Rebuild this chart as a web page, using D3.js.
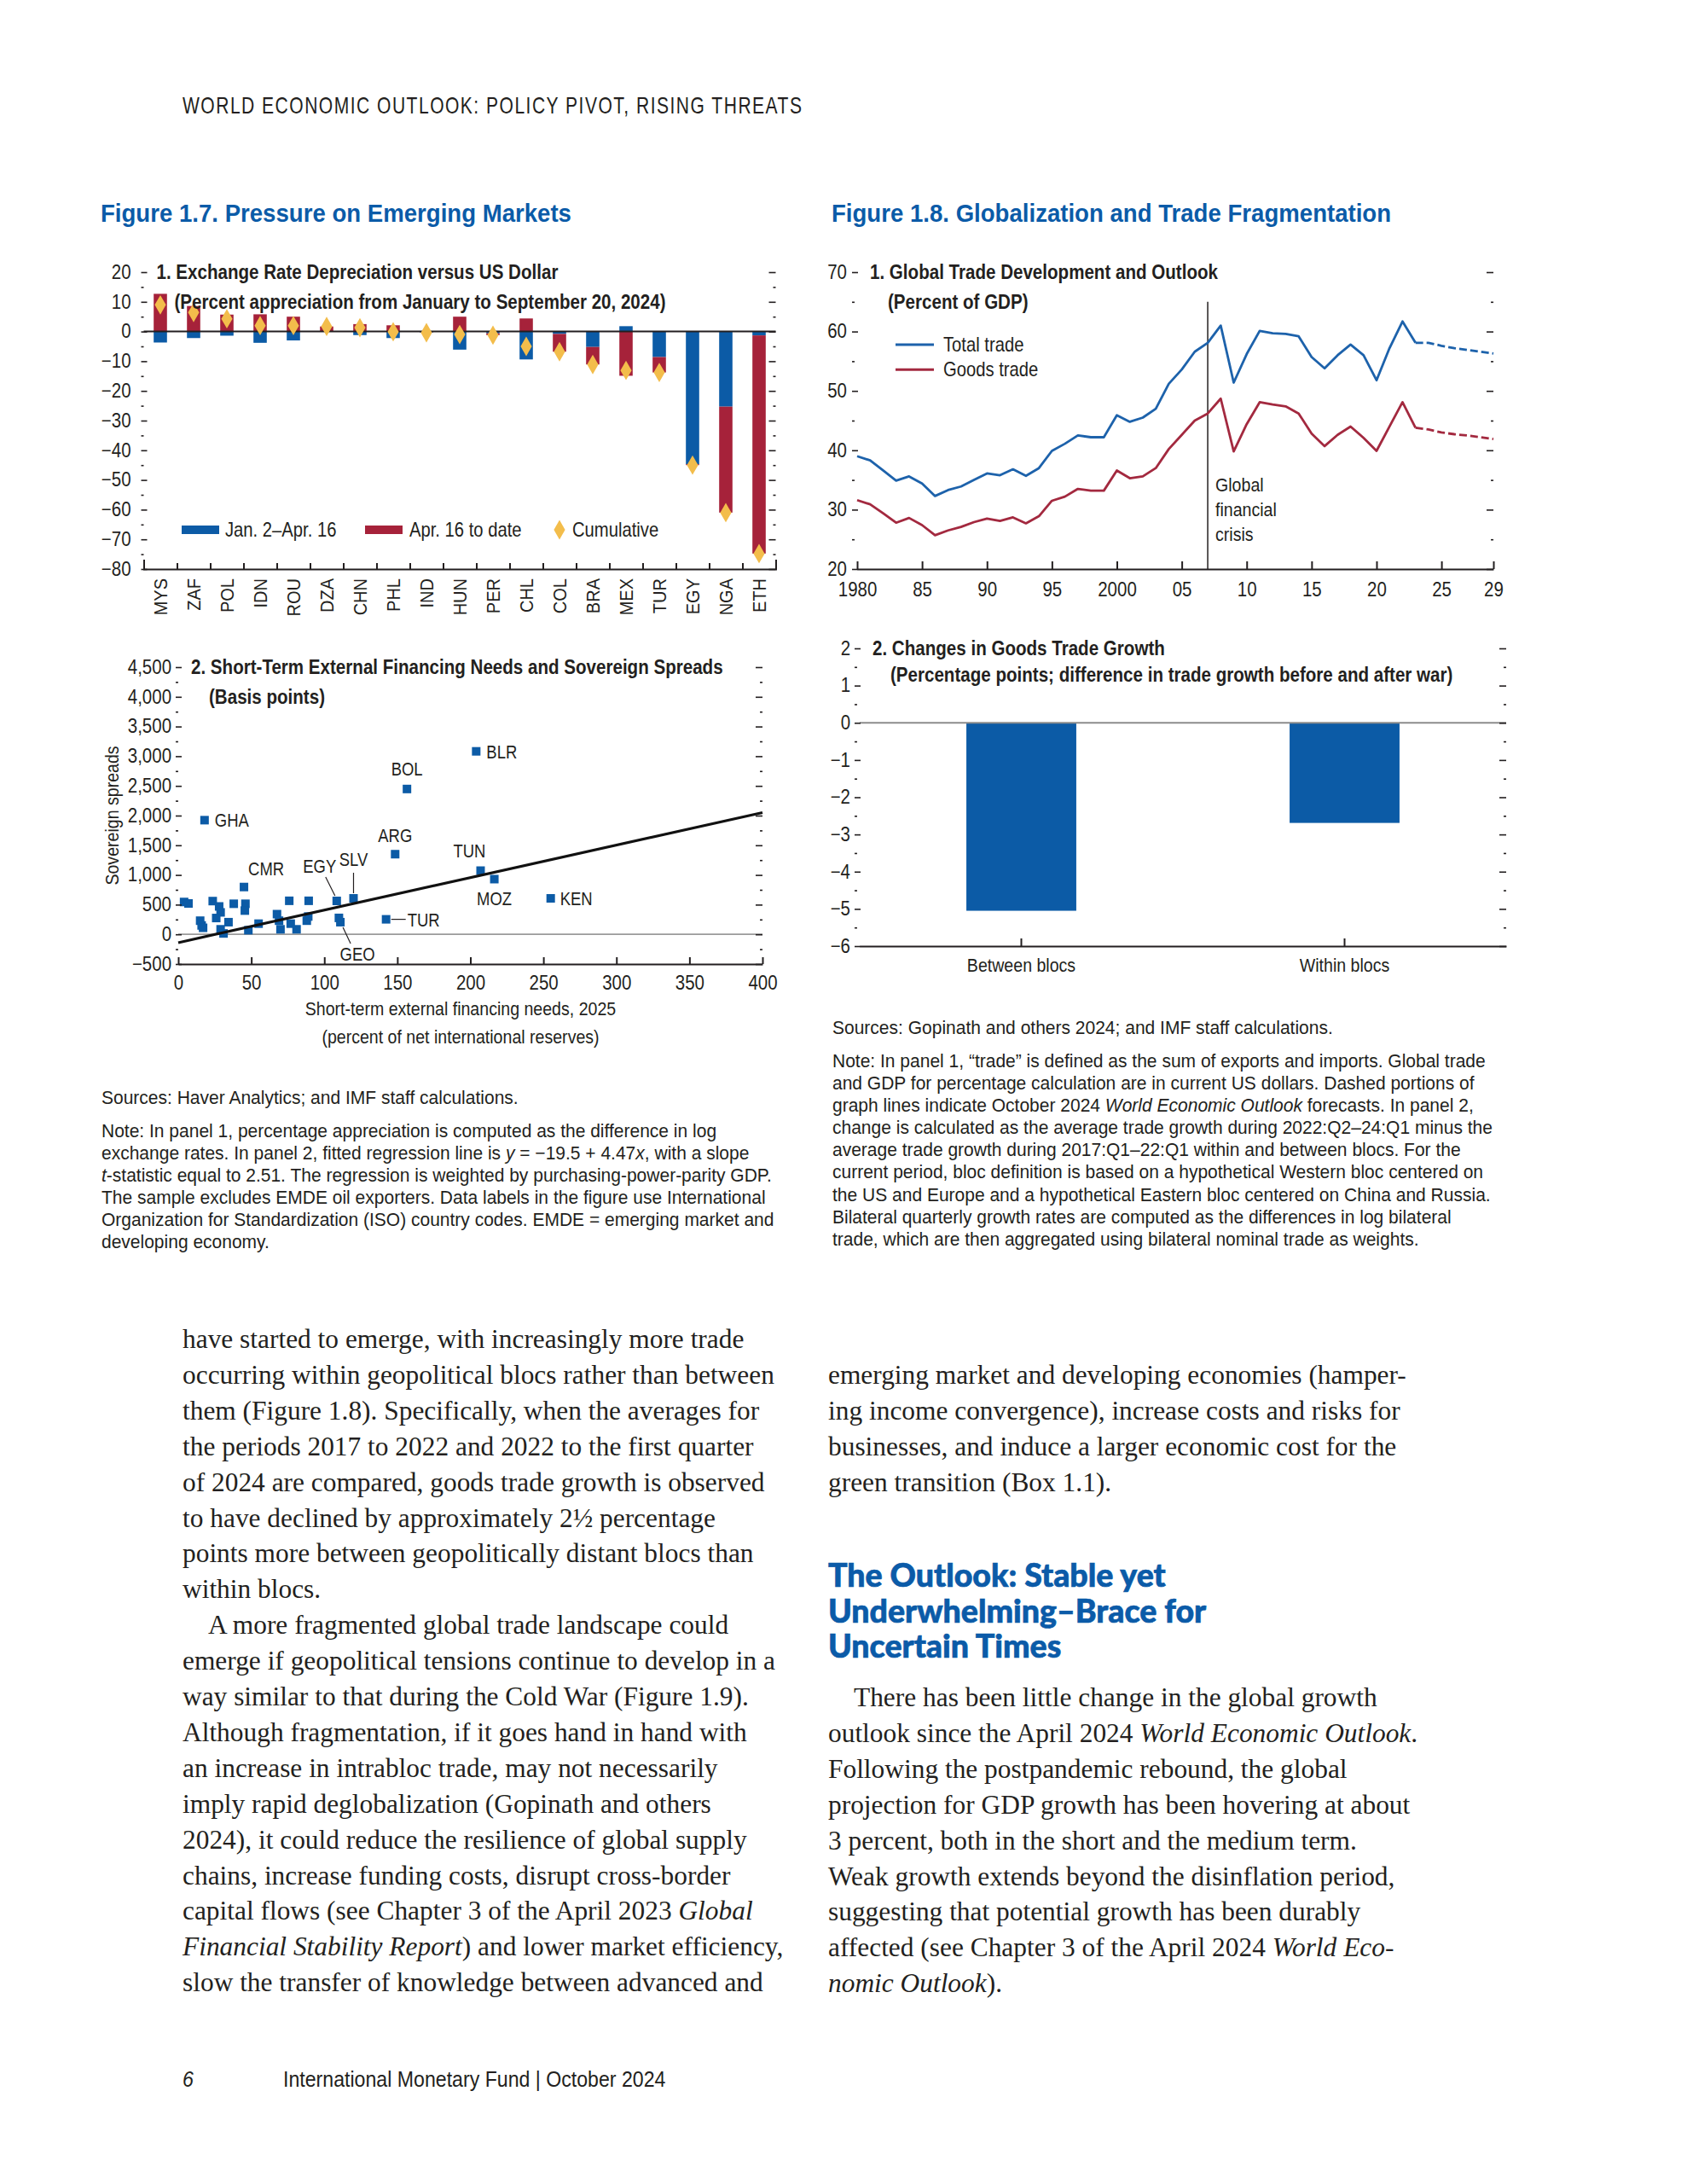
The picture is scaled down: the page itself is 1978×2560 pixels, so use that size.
<!DOCTYPE html>
<html>
<head>
<meta charset="utf-8">
<script src="https://cdn.jsdelivr.net/npm/d3@7"></script>
<style>
  body { margin: 0; background: #fff; }
  svg { display: block; }
</style>
</head>
<body>
<svg id="page"></svg>
<script>
// ---------- data: Figure 1.7, panel 1 ----------
var countries = ["MYS","ZAF","POL","IDN","ROU","DZA","CHN","PHL","IND","HUN","PER","CHL","COL","BRA","MEX","TUR","EGY","NGA","ETH"];
var janApr    = [-3.7,-2.2,-1.4,-3.8,-3.0,0.1,-1.2,-2.2,-0.3,-6.1,-0.6,-9.4,-0.8,-5.2,1.8,-8.6,-44.7,-25.3,-1.3];
var aprDate   = [12.7,8.6,5.7,5.8,5.0,1.6,2.5,2.1,-0.1,5.0,-0.6,4.4,-6.0,-5.9,-14.9,-5.2,-0.3,-35.7,-73.5];
var cumulative = [9.0,6.4,4.3,2.0,2.0,1.7,1.3,-0.1,-0.4,-1.0,-1.2,-5.0,-6.8,-11.1,-13.1,-13.8,-45.0,-61.0,-74.8];
var ticksA = [20,10,0,-10,-20,-30,-40,-50,-60,-70,-80];

// ---------- data: Figure 1.7, panel 2 ----------
var stefn   = [204,156.6,18,148.5,207,216.4,255,142.3,120,108.5,111,45,
               4,7,23.6,28,29,15,16,17,26,29,31,34.4,38,46,45.6,48,55,67.6,69,70,76,77,81,88,89,89.3,110];
var spreads = [3082,2448,1923,1350,1073,930,606,253,606,563,205,797,
               545,520,560,470,370,230,150,110,275,85,15,205,515,515,400,70,180,340,230,85,565,180,85,230,300,565,277];
var isoLabels = ["BLR","BOL","GHA","ARG","TUN","MOZ","KEN","TUR","SLV","EGY","GEO","CMR"];
var fitX = [0, 400];
var fitY = [-140, 2050];
var ticksBy = [4500,4000,3500,3000,2500,2000,1500,1000,500,0,-500];
var ticksBx = [0,50,100,150,200,250,300,350,400];

// ---------- data: Figure 1.8, panel 1 ----------
var years = [1980,1981,1982,1983,1984,1985,1986,1987,1988,1989,
             1990,1991,1992,1993,1994,1995,1996,1997,1998,1999,
             2000,2001,2002,2003,2004,2005,2006,2007,2008,2009,
             2010,2011,2012,2013,2014,2015,2016,2017,2018,2019,
             2020,2021,2022,2023,2024,2025,2026,2027,2028,2029];
var totalTrade = [39.0,38.3,36.6,34.9,35.6,34.4,32.3,33.3,33.9,35.0,
                  36.1,35.8,36.8,35.7,37.0,39.9,41.1,42.5,42.2,42.2,
                  45.9,44.8,45.5,47.0,51.2,53.6,56.6,58.1,61.0,51.4,
                  56.2,60.1,59.7,59.6,59.2,55.7,53.8,56.0,57.8,56.0,
                  51.8,57.2,61.7,58.1,58.1,57.6,57.2,56.9,56.6,56.3];
var goodsTrade = [31.6,30.9,29.4,27.8,28.6,27.4,25.7,26.5,27.1,27.9,
                  28.5,28.1,28.7,27.7,28.9,31.5,32.2,33.5,33.2,33.2,
                  36.6,35.3,35.6,37.0,40.2,42.6,45.0,46.2,48.7,39.8,
                  44.4,48.1,47.7,47.4,46.2,42.8,40.7,42.6,44.0,42.1,
                  39.9,44.0,48.1,43.8,43.5,43.0,42.7,42.5,42.2,41.9];
var lastActual = 2023;
var gfcYear = 2007;
var ticksCx = [1980,1985,1990,1995,2000,2005,2010,2015,2020,2025,2029];
var ticksCxLabels = ["1980","85","90","95","2000","05","10","15","20","25","29"];
var ticksCy = [70,60,50,40,30,20];

// ---------- data: Figure 1.8, panel 2 ----------
var blocs = ["Between blocs","Within blocs"];
var tradeChange = [-5.05,-2.69];
var ticksDy = [2,1,0,-1,-2,-3,-4,-5,-6];

// ---------- page ----------
var INK = "#231f20", BLUE = "#0c5ba6", RED = "#a6223a", GOLD = "#f3bd4b", TITLE = "#0b5ba8";
var LINEBLUE = "#1d62ab", LINERED = "#a3293f";
var COND = '"Liberation Sans",Arial,sans-serif';
var SERIF = '"Liberation Serif","DejaVu Serif",serif';
var HEAD = 'Lato,"Open Sans",sans-serif';

// text is narrowed horizontally with data-sx (closest ancestor wins)
var svg = d3.select("#page").attr("width", 1978).attr("height", 2560)
  .attr("font-family", COND).attr("fill", INK).attr("data-sx", 0.89);

function noDomain(s) { s.select(".domain").remove(); }

function frameTicks(g, y, x0, x1, major, minor, fmt, off, pad) {
  g.append("g").attr("transform", `translate(${x0 + off},0)`)
    .call(d3.axisLeft(y).tickValues(major).tickSize(-7).tickPadding(pad).tickFormat(fmt))
    .call(noDomain);
  g.append("g").attr("transform", `translate(${x0 + off},0)`)
    .call(d3.axisLeft(y).tickValues(minor).tickSize(-3).tickFormat(""))
    .call(noDomain);
  g.append("g").attr("transform", `translate(${x1},0)`)
    .call(d3.axisLeft(y).tickValues(major).tickSize(8).tickFormat(""))
    .call(noDomain);
  g.append("g").attr("transform", `translate(${x1},0)`)
    .call(d3.axisLeft(y).tickValues(minor).tickSize(3).tickFormat(""))
    .call(noDomain);
  g.selectAll(".tick line").attr("stroke", INK).attr("stroke-width", 1.6);
  g.selectAll(".tick text").attr("font-family", COND).attr("font-size", 23).attr("fill", INK);
}

function panelTitle(g, x0, yTop, yTwo, t1, t2) {
  var t = g.append("g").attr("data-sx", 0.84).attr("font-weight", "bold").attr("font-size", 24.5);
  t.append("text").attr("x", x0 + 15).attr("y", yTop + 8.5).text(t1);
  t.append("text").attr("x", x0 + 36).attr("y", yTwo + 8.5).text(t2);
}

function textLines(g, x, y, lh, lines) {
  lines.forEach(function (ln, i) {
    var indent = 0;
    if (ln[0] === ">") { indent = 30; ln = ln.slice(1); }
    var t = g.append("text").attr("x", x + indent).attr("y", y + i * lh);
    ln.split("*").forEach(function (part, j) {
      if (part) t.append("tspan").attr("font-style", j % 2 ? "italic" : null).text(part);
    });
  });
}

// header + figure titles
svg.append("text").attr("x", 214).attr("y", 133).attr("font-size", 27).attr("data-sx", 0.78)
  .attr("letter-spacing", 1.9).text("WORLD ECONOMIC OUTLOOK: POLICY PIVOT, RISING THREATS");
var figT = svg.append("g").attr("data-sx", 0.92).attr("font-size", 30).attr("font-weight", "bold").attr("fill", TITLE);
figT.append("text").attr("x", 118).attr("y", 260).text("Figure 1.7.  Pressure on Emerging Markets");
figT.append("text").attr("x", 975).attr("y", 260).text("Figure 1.8.  Globalization and Trade Fragmentation");

// ===== Panel A: exchange rates =====
var A = { x0: 168.5, x1: 909.5, y0: 319, y1: 667 };
var gA = svg.append("g");
var xA = d3.scaleBand().domain(countries).range([A.x0, A.x1]).paddingInner(0.6).paddingOuter(0.3);
var bA = d3.scaleLinear().domain([0, countries.length]).range([A.x0, A.x1]);
var yA = d3.scaleLinear().domain([-80, 20]).range([A.y1, A.y0]);

var rowsA = countries.map(function (c, i) { return { c: c, jan: janApr[i], apr: aprDate[i] }; });
var stackA = d3.stack().keys(["jan", "apr"]).offset(d3.stackOffsetDiverging)(rowsA);
gA.selectAll("g.series").data(stackA).join("g").attr("class", "series")
  .attr("fill", function (d, i) { return i ? RED : BLUE; })
  .selectAll("rect").data(function (d) { return d; }).join("rect")
  .attr("x", function (d) { return xA(d.data.c); })
  .attr("width", xA.bandwidth())
  .attr("y", function (d) { return yA(d[1]); })
  .attr("height", function (d) { return yA(d[0]) - yA(d[1]); });

gA.append("line").attr("x1", A.x0).attr("x2", A.x1).attr("y1", yA(0)).attr("y2", yA(0))
  .attr("stroke", INK).attr("stroke-width", 2);

var diamond = d3.symbol(d3.symbolDiamond, 150);
gA.selectAll("path.cum").data(countries).join("path").attr("class", "cum")
  .attr("d", diamond).attr("fill", GOLD)
  .attr("transform", function (c, i) { return `translate(${xA(c) + xA.bandwidth() / 2},${yA(cumulative[i])})`; });

frameTicks(gA, yA, A.x0, A.x1, ticksA, d3.range(-75, 20, 10), d3.format(""), -3, 12);

gA.append("g").attr("transform", `translate(0,${A.y1})`)
  .call(d3.axisBottom(bA).tickValues(d3.range(1, countries.length)).tickSize(-7).tickSizeOuter(-11).tickFormat(""))
  .call(function (s) { s.selectAll("line,path").attr("stroke", INK).attr("stroke-width", 2); });
gA.append("g").attr("transform", `translate(0,${A.y1})`)
  .call(d3.axisBottom(xA).tickSize(0))
  .call(noDomain)
  .call(function (s) {
    s.selectAll("text").attr("font-family", COND).attr("font-size", 22.5).attr("fill", INK)
      .attr("transform", "rotate(-90)").attr("text-anchor", "end")
      .attr("x", -11).attr("y", 0).attr("dy", "0.36em");
  });

panelTitle(gA, A.x0, yA(20), yA(10), "1. Exchange Rate Depreciation versus US Dollar",
  "(Percent appreciation from January to September 20, 2024)");

var legA = gA.append("g").attr("font-size", 23).attr("data-sx", 0.88);
legA.append("rect").attr("x", 213).attr("y", 616).attr("width", 44).attr("height", 10).attr("fill", BLUE);
legA.append("text").attr("x", 264).attr("y", 629).text("Jan. 2–Apr. 16");
legA.append("rect").attr("x", 428).attr("y", 616).attr("width", 44).attr("height", 10).attr("fill", RED);
legA.append("text").attr("x", 480).attr("y", 629).text("Apr. 16 to date");
legA.append("path").attr("d", diamond).attr("fill", GOLD).attr("transform", "translate(656,621)");
legA.append("text").attr("x", 671).attr("y", 629).text("Cumulative");

// ===== Panel B: scatter =====
var B = { x0: 209, x1: 894, y0: 782, y1: 1130 };
var gB = svg.append("g");
var xB = d3.scaleLinear().domain([0, 400]).range([B.x0, B.x1]);
var yB = d3.scaleLinear().domain([-500, 4500]).range([B.y1, B.y0]);

gB.append("line").attr("x1", B.x0).attr("x2", B.x1).attr("y1", yB(0)).attr("y2", yB(0))
  .attr("stroke", "#9a9a9a").attr("stroke-width", 1.8);

gB.selectAll("rect.pt").data(stefn).join("rect").attr("class", "pt")
  .attr("x", function (d) { return xB(d) - 5; })
  .attr("y", function (d, i) { return yB(spreads[i]) - 5; })
  .attr("width", 10).attr("height", 10).attr("fill", BLUE);

gB.append("line").attr("x1", xB(fitX[0])).attr("y1", yB(fitY[0]))
  .attr("x2", xB(fitX[1])).attr("y2", yB(fitY[1]))
  .attr("stroke", "#111").attr("stroke-width", 3.2);

// label placement (offsets in px) and leader lines
var labelPos = {
  BLR: [12, 8, "start"], BOL: [0, -16, "middle"], GHA: [12, 8, "start"], ARG: [0, -14, "middle"],
  TUN: [-13, -16, "middle"], MOZ: [0, 31, "middle"], KEN: [11, 8, "start"], TUR: [25, 8, "start"],
  SLV: [0, -38, "middle"], EGY: [-20, -33, "middle"], GEO: [20, 45, "middle"], CMR: [5, -14, "start"]
};
var leaders = { TUR: [6, 0, 23, 0], SLV: [0, -6, 0, -30], EGY: [-2, -6, -13, -28], GEO: [3, 6, 12, 25] };
var labB = gB.append("g").attr("font-size", 22).attr("data-sx", 0.84);
isoLabels.forEach(function (iso, i) {
  var px = xB(stefn[i]), py = yB(spreads[i]), p = labelPos[iso];
  labB.append("text").attr("x", px + p[0]).attr("y", py + p[1]).attr("text-anchor", p[2]).text(iso);
  if (leaders[iso]) {
    var l = leaders[iso];
    gB.append("line").attr("x1", px + l[0]).attr("y1", py + l[1]).attr("x2", px + l[2]).attr("y2", py + l[3])
      .attr("stroke", INK).attr("stroke-width", 1.2);
  }
});

frameTicks(gB, yB, B.x0, B.x1, ticksBy, d3.range(-250, 4500, 500), d3.format(","), -3, 5);
gB.append("g").attr("transform", `translate(0,${B.y1})`)
  .call(d3.axisBottom(xB).tickValues(ticksBx).tickSize(-8).tickSizeOuter(0).tickPadding(14).tickFormat(d3.format("d")))
  .call(function (s) {
    s.selectAll("line,path").attr("stroke", INK).attr("stroke-width", 2);
    s.selectAll("text").attr("font-family", COND).attr("font-size", 23).attr("fill", INK);
  });
panelTitle(gB, B.x0, yB(4500), yB(4000), "2. Short-Term External Financing Needs and Sovereign Spreads", "(Basis points)");
var axB = gB.append("g").attr("font-size", 22);
axB.append("text").attr("x", 540).attr("y", 1190).attr("text-anchor", "middle")
  .text("Short-term external financing needs, 2025");
axB.append("text").attr("x", 540).attr("y", 1223).attr("text-anchor", "middle")
  .text("(percent of net international reserves)");
axB.append("text").attr("transform", `translate(139,${yB(2000)}) rotate(-90)`).attr("text-anchor", "middle")
  .text("Sovereign spreads");

// ===== Panel C: trade lines =====
var C = { x0: 1005, x1: 1751, y0: 319, y1: 667 };
var gC = svg.append("g");
var xC = d3.scaleLinear().domain([1980, 2029]).range([C.x0, C.x1]);
var yC = d3.scaleLinear().domain([20, 70]).range([C.y1, C.y0]);

gC.append("line").attr("x1", xC(gfcYear)).attr("x2", xC(gfcYear)).attr("y1", yC(65)).attr("y2", yC(20))
  .attr("stroke", INK).attr("stroke-width", 1.5);

var lineC = d3.line().x(function (d) { return xC(d[0]); }).y(function (d) { return yC(d[1]); });
[[totalTrade, LINEBLUE], [goodsTrade, LINERED]].forEach(function (s) {
  var pts = years.map(function (yr, i) { return [yr, s[0][i]]; });
  gC.append("path").attr("d", lineC(pts.filter(function (p) { return p[0] <= lastActual; })))
    .attr("fill", "none").attr("stroke", s[1]).attr("stroke-width", 2.8).attr("stroke-linejoin", "round");
  gC.append("path").attr("d", lineC(pts.filter(function (p) { return p[0] >= lastActual; })))
    .attr("fill", "none").attr("stroke", s[1]).attr("stroke-width", 2.8).attr("stroke-dasharray", "9,4");
});

frameTicks(gC, yC, C.x0, C.x1, ticksCy, d3.range(25, 70, 10), d3.format(""), -6, 6);
gC.append("g").attr("transform", `translate(0,${C.y1})`)
  .call(d3.axisBottom(xC).tickValues(ticksCx).tickSize(-9).tickSizeOuter(0).tickPadding(16)
    .tickFormat(function (d, i) { return ticksCxLabels[i]; }))
  .call(function (s) {
    s.selectAll("line,path").attr("stroke", INK).attr("stroke-width", 2);
    s.selectAll("text").attr("font-family", COND).attr("font-size", 23).attr("fill", INK);
  });
panelTitle(gC, C.x0, yC(70), yC(65), "1. Global Trade Development and Outlook", "(Percent of GDP)");

var legC = gC.append("g").attr("font-size", 23).attr("data-sx", 0.88);
legC.append("line").attr("x1", 1050).attr("x2", 1095).attr("y1", yC(57.8)).attr("y2", yC(57.8))
  .attr("stroke", LINEBLUE).attr("stroke-width", 3);
legC.append("text").attr("x", 1106).attr("y", yC(57.8) + 8).text("Total trade");
legC.append("line").attr("x1", 1050).attr("x2", 1095).attr("y1", yC(53.6)).attr("y2", yC(53.6))
  .attr("stroke", LINERED).attr("stroke-width", 3);
legC.append("text").attr("x", 1106).attr("y", yC(53.6) + 8).text("Goods trade");
textLines(gC.append("g").attr("font-size", 22), xC(gfcYear) + 9, yC(34.2) + 8, 29,
  ["Global", "financial", "crisis"]);

// ===== Panel D: trade growth change =====
var D = { x0: 1008, x1: 1766, y0: 760, y1: 1109 };
var gD = svg.append("g");
var xD = d3.scaleBand().domain(blocs).range([D.x0, D.x1]).paddingInner(0.66).paddingOuter(0.33);
var yD = d3.scaleLinear().domain([-6, 2]).range([D.y1, D.y0]);

gD.selectAll("rect.bar").data(blocs).join("rect").attr("class", "bar")
  .attr("x", function (d) { return xD(d); }).attr("width", xD.bandwidth())
  .attr("y", yD(0)).attr("height", function (d, i) { return yD(tradeChange[i]) - yD(0); })
  .attr("fill", BLUE);
gD.append("line").attr("x1", D.x0).attr("x2", D.x1).attr("y1", yD(0)).attr("y2", yD(0))
  .attr("stroke", "#8c8c8c").attr("stroke-width", 1.8);

frameTicks(gD, yD, D.x0, D.x1, ticksDy, d3.range(-5.5, 2, 1), d3.format(""), -6, 5);
gD.append("g").attr("transform", `translate(0,${D.y1})`)
  .call(d3.axisBottom(xD).tickSize(-9).tickSizeOuter(0).tickPadding(14))
  .call(function (s) {
    s.selectAll("line,path").attr("stroke", INK).attr("stroke-width", 2);
    s.selectAll("text").attr("font-family", COND).attr("font-size", 22).attr("fill", INK);
  });
panelTitle(gD, D.x0, yD(2), yD(1.3), "2. Changes in Goods Trade Growth",
  "(Percentage points; difference in trade growth before and after war)");

// ===== notes =====
var notesL = svg.append("g").attr("font-size", 22).attr("data-sx", 0.955);
notesL.append("text").attr("x", 119).attr("y", 1294).text("Sources: Haver Analytics; and IMF staff calculations.");
textLines(notesL, 119, 1333, 26.1, [
  "Note: In panel 1, percentage appreciation is computed as the difference in log",
  "exchange rates. In panel 2, fitted regression line is *y* = −19.5 + 4.47*x*, with a slope",
  "*t*-statistic equal to 2.51. The regression is weighted by purchasing-power-parity GDP.",
  "The sample excludes EMDE oil exporters. Data labels in the figure use International",
  "Organization for Standardization (ISO) country codes. EMDE = emerging market and",
  "developing economy."
]);
var notesR = svg.append("g").attr("font-size", 22).attr("data-sx", 0.955);
notesR.append("text").attr("x", 976).attr("y", 1212).text("Sources: Gopinath and others 2024; and IMF staff calculations.");
textLines(notesR, 976, 1251, 26.1, [
  "Note: In panel 1, “trade” is defined as the sum of exports and imports. Global trade",
  "and GDP for percentage calculation are in current US dollars. Dashed portions of",
  "graph lines indicate October 2024 *World Economic Outlook* forecasts. In panel 2,",
  "change is calculated as the average trade growth during 2022:Q2–24:Q1 minus the",
  "average trade growth during 2017:Q1–22:Q1 within and between blocs. For the",
  "current period, bloc definition is based on a hypothetical Western bloc centered on",
  "the US and Europe and a hypothetical Eastern bloc centered on China and Russia.",
  "Bilateral quarterly growth rates are computed as the differences in log bilateral",
  "trade, which are then aggregated using bilateral nominal trade as weights."
]);

// ===== body text =====
var bodyL = svg.append("g").attr("font-family", SERIF).attr("font-size", 31.4).attr("data-sx", 1);
textLines(bodyL, 214, 1580, 41.9, [
  "have started to emerge, with increasingly more trade",
  "occurring within geopolitical blocs rather than between",
  "them (Figure 1.8). Specifically, when the averages for",
  "the periods 2017 to 2022 and 2022 to the first quarter",
  "of 2024 are compared, goods trade growth is observed",
  "to have declined by approximately 2½ percentage",
  "points more between geopolitically distant blocs than",
  "within blocs.",
  ">A more fragmented global trade landscape could",
  "emerge if geopolitical tensions continue to develop in a",
  "way similar to that during the Cold War (Figure 1.9).",
  "Although fragmentation, if it goes hand in hand with",
  "an increase in intrabloc trade, may not necessarily",
  "imply rapid deglobalization (Gopinath and others",
  "2024), it could reduce the resilience of global supply",
  "chains, increase funding costs, disrupt cross-border",
  "capital flows (see Chapter 3 of the April 2023 *Global*",
  "*Financial Stability Report*) and lower market efficiency,",
  "slow the transfer of knowledge between advanced and"
]);
var bodyR = svg.append("g").attr("font-family", SERIF).attr("font-size", 31.4).attr("data-sx", 1);
textLines(bodyR, 971, 1622, 41.9, [
  "emerging market and developing economies (hamper-",
  "ing income convergence), increase costs and risks for",
  "businesses, and induce a larger economic cost for the",
  "green transition (Box 1.1)."
]);
textLines(svg.append("g").attr("font-family", HEAD).attr("font-weight", 900).attr("font-size", 37.5)
    .attr("fill", TITLE).attr("stroke", TITLE).attr("stroke-width", 0.7).attr("data-sx", 1),
  971, 1860, 41.5, ["The Outlook: Stable yet", "Underwhelming–Brace for", "Uncertain Times"]);
textLines(bodyR, 971, 2000, 41.9, [
  ">There has been little change in the global growth",
  "outlook since the April 2024 *World Economic Outlook*.",
  "Following the postpandemic rebound, the global",
  "projection for GDP growth has been hovering at about",
  "3 percent, both in the short and the medium term.",
  "Weak growth extends beyond the disinflation period,",
  "suggesting that potential growth has been durably",
  "affected (see Chapter 3 of the April 2024 *World Eco-*",
  "*nomic Outlook*)."
]);

// footer
var foot = svg.append("g").attr("font-size", 26).attr("data-sx", 0.89);
foot.append("text").attr("x", 214).attr("y", 2446).attr("font-style", "italic").text("6");
foot.append("text").attr("x", 332).attr("y", 2446).text("International Monetary Fund | October 2024");

// narrow the sans text around its anchor point
svg.selectAll("text").each(function () {
  var sx = +this.closest("[data-sx]").getAttribute("data-sx");
  if (sx === 1) return;
  var x = parseFloat(this.getAttribute("x")) || 0, y = parseFloat(this.getAttribute("y")) || 0;
  var tr = this.getAttribute("transform") || "";
  this.setAttribute("transform", `${tr} translate(${x},${y}) scale(${sx},1) translate(${-x},${-y})`);
});
</script>
</body>
</html>
